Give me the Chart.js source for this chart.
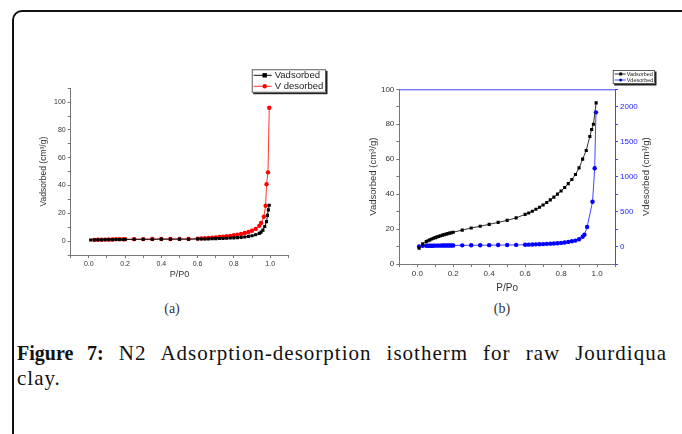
<!DOCTYPE html>
<html>
<head>
<meta charset="utf-8">
<script src="https://cdn.jsdelivr.net/npm/chart.js"></script>
<style>
  body { margin: 0; width: 682px; height: 434px; background: #fff; overflow: hidden; position: relative; font-family: "Liberation Serif", serif; }
  #frame { position: absolute; left: 12px; top: 10px; width: 720px; height: 480px; border: 2px solid #111; border-top-left-radius: 10px; box-sizing: border-box; }
  #wrapA { position: absolute; left: 20px; top: 60px; width: 320px; height: 230px; }
  #wrapB { position: absolute; left: 350px; top: 60px; width: 330px; height: 240px; }
  .sub { position: absolute; top: 301px; width: 40px; text-align: center; font-size: 14px; color: #333; }
  #cap1 { position: absolute; left: 17px; top: 341px; width: 650px; font-size: 21px; letter-spacing: 1px; line-height: 24px; text-align: justify; text-align-last: justify; color: #111; }
  #cap1 b { font-size: 20px; letter-spacing: 0; }
  #cap2 { position: absolute; left: 17px; top: 366px; font-size: 21px; letter-spacing: 1px; line-height: 24px; color: #111; }
</style>
</head>
<body>
<div id="frame"></div>
<div id="wrapA"><canvas id="chartA"></canvas></div>
<div id="wrapB"><canvas id="chartB"></canvas></div>
<div class="sub" style="left:152px">(a)</div>
<div class="sub" style="left:482px">(b)</div>
<div id="cap1"><b>Figure 7:</b> N2 Adsorption-desorption isotherm for raw Jourdiqua</div>
<div id="cap2">clay.</div>

<script>
// --- chart (a) data ---
const adsXA = [0.01, 0.03, 0.05, 0.07, 0.09, 0.11, 0.13, 0.15, 0.17, 0.19, 0.20, 0.25, 0.30, 0.35, 0.40, 0.45, 0.50, 0.55, 0.60, 0.62, 0.64, 0.66, 0.68, 0.70, 0.72, 0.74, 0.76, 0.78, 0.80, 0.82, 0.84, 0.86, 0.88, 0.90, 0.92, 0.94, 0.95, 0.96, 0.97, 0.98, 0.985, 0.99, 0.995];
const adsYA = [0.8, 0.9, 1.0, 1.0, 1.1, 1.1, 1.1, 1.2, 1.2, 1.2, 1.2, 1.3, 1.3, 1.3, 1.4, 1.4, 1.4, 1.4, 1.5, 1.5, 1.5, 1.6, 1.7, 1.8, 1.9, 2.0, 2.1, 2.2, 2.3, 2.5, 2.7, 3.0, 3.4, 3.9, 4.6, 5.6, 6.5, 7.9, 10.5, 14.0, 18.5, 22.5, 25.8];
const desXA = [0.03, 0.05, 0.07, 0.09, 0.11, 0.13, 0.15, 0.17, 0.19, 0.20, 0.25, 0.30, 0.35, 0.40, 0.45, 0.50, 0.55, 0.60, 0.62, 0.64, 0.66, 0.68, 0.70, 0.72, 0.74, 0.76, 0.78, 0.80, 0.82, 0.84, 0.86, 0.88, 0.90, 0.92, 0.94, 0.95, 0.965, 0.975, 0.98, 0.988, 0.995];
const desYA = [0.9, 1.0, 1.0, 1.1, 1.2, 1.2, 1.3, 1.3, 1.3, 1.3, 1.4, 1.4, 1.5, 1.5, 1.5, 1.6, 1.6, 1.8, 2.0, 2.1, 2.3, 2.5, 2.7, 3.0, 3.2, 3.5, 3.8, 4.2, 4.7, 5.2, 5.8, 6.6, 7.5, 8.8, 11.0, 13.0, 17.5, 25.5, 41.0, 49.5, 96.0];

// --- chart (b) data ---
const adsXB = [0.01, 0.03, 0.05, 0.06, 0.07, 0.08, 0.09, 0.10, 0.11, 0.12, 0.13, 0.14, 0.15, 0.16, 0.17, 0.18, 0.19, 0.20, 0.25, 0.30, 0.35, 0.40, 0.45, 0.50, 0.55, 0.60, 0.62, 0.64, 0.66, 0.68, 0.70, 0.72, 0.74, 0.76, 0.78, 0.80, 0.82, 0.84, 0.86, 0.88, 0.90, 0.92, 0.94, 0.96, 0.97, 0.98, 0.995];
const adsYB = [9.0, 11.5, 12.8, 13.3, 13.8, 14.3, 14.7, 15.1, 15.5, 15.8, 16.2, 16.5, 16.8, 17.1, 17.4, 17.7, 17.9, 18.2, 19.4, 20.6, 21.6, 22.7, 23.8, 25.0, 26.4, 28.4, 29.2, 30.2, 31.3, 32.5, 33.8, 35.2, 36.7, 38.3, 40.0, 41.8, 43.8, 46.0, 48.4, 51.2, 55.0, 60.0, 65.0, 73.0, 77.0, 80.0, 92.2];
const desXB = [0.01, 0.03, 0.05, 0.06, 0.07, 0.08, 0.09, 0.10, 0.11, 0.12, 0.13, 0.14, 0.15, 0.16, 0.17, 0.18, 0.19, 0.20, 0.25, 0.30, 0.35, 0.40, 0.45, 0.50, 0.55, 0.60, 0.62, 0.64, 0.66, 0.68, 0.70, 0.72, 0.74, 0.76, 0.78, 0.80, 0.82, 0.84, 0.86, 0.88, 0.90, 0.92, 0.93, 0.945, 0.975, 0.987, 0.994];
const desYB = [0, 10, 11, 11, 12, 12, 12, 13, 13, 13, 13, 14, 14, 14, 15, 15, 15, 15, 17, 18, 19, 20, 21, 22, 23, 25, 27, 29, 31, 33, 35, 38, 41, 44, 48, 52, 58, 66, 75, 85, 105, 140, 170, 280, 640, 1120, 1920];

// --- axis ticks ---
const xTickVals = [-0.1, 0, 0.1, 0.2, 0.3, 0.4, 0.5, 0.6, 0.7, 0.8, 0.9, 1.0, 1.1];
const xTickLabels = ['', '0.0', '', '0.2', '', '0.4', '', '0.6', '', '0.8', '', '1.0', ''];
const yTickValsA = [-10, 0, 10, 20, 30, 40, 50, 60, 70, 80, 90, 100, 110];
const yTickLabelsA = ['', '0', '', '20', '', '40', '', '60', '', '80', '', '100', ''];
const yTickValsB = [0, 10, 20, 30, 40, 50, 60, 70, 80, 90, 100];
const yTickLabelsB = ['0', '', '20', '', '40', '', '60', '', '80', '', '100'];
const y1TickValsB = [-250, 0, 250, 500, 750, 1000, 1250, 1500, 1750, 2000, 2250];
const y1TickLabelsB = ['', '0', '', '500', '', '1000', '', '1500', '', '2000', ''];

const pts = (xs, ys) => xs.map((x, i) => ({ x: x, y: ys[i] }));
const sans = '"Liberation Sans", Arial, sans-serif';

// draws the boxed legend, optional coloured top border and the right axis title
const boxLegend = {
  id: 'boxLegend',
  afterDraw(chart, args, o) {
    const ctx = chart.ctx;
    const a = chart.chartArea;
    ctx.save();
    if (o.topColor) {
      ctx.strokeStyle = o.topColor;
      ctx.lineWidth = 1;
      ctx.beginPath();
      ctx.moveTo(a.left, a.top + 0.5);
      ctx.lineTo(a.right, a.top + 0.5);
      ctx.stroke();
    }
    if (o.rightTitle) {
      // reads bottom-to-top like the left one
      ctx.save();
      ctx.translate(o.rightTitleX, (a.top + a.bottom) / 2);
      ctx.rotate(-Math.PI / 2);
      ctx.fillStyle = '#333';
      ctx.font = o.rightTitleSize + 'px ' + sans;
      ctx.textAlign = 'center';
      ctx.textBaseline = 'middle';
      ctx.fillText(o.rightTitle, 0, 0);
      ctx.restore();
    }
    ctx.fillStyle = '#222';
    ctx.fillRect(o.x + o.sh, o.y + o.sh, o.w, o.h);
    ctx.fillStyle = '#fff';
    ctx.fillRect(o.x, o.y, o.w, o.h);
    ctx.strokeStyle = '#333';
    ctx.lineWidth = 0.8;
    ctx.strokeRect(o.x + 0.5, o.y + 0.5, o.w - 1, o.h - 1);
    ctx.font = o.fontSize + 'px ' + sans;
    ctx.textBaseline = 'middle';
    chart.data.datasets.forEach((ds, i) => {
      const y = o.y + o.row0 + i * o.rowH;
      ctx.strokeStyle = ds.borderColor;
      ctx.lineWidth = 1;
      ctx.beginPath();
      ctx.moveTo(o.x + o.l0, y);
      ctx.lineTo(o.x + o.l1, y);
      ctx.stroke();
      ctx.fillStyle = ds.pointBackgroundColor;
      const mx = o.x + o.mk, r = o.mr;
      if (ds.pointStyle === 'rect') {
        ctx.fillRect(mx - r, y - r, 2 * r, 2 * r);
      } else {
        ctx.beginPath();
        ctx.arc(mx, y, r, 0, Math.PI * 2);
        ctx.fill();
      }
      ctx.fillStyle = '#222';
      ctx.fillText(ds.label, o.x + o.tx, y + 0.5);
    });
    ctx.restore();
  }
};

const axisColor = '#777';
const tickFont = (s) => ({ family: sans, size: s });

function xAxis(h, fontS, titleText, titlePad) {
  return {
    type: 'linear', min: -0.1, max: 1.1,
    afterBuildTicks: s => { s.ticks = xTickVals.map(v => ({ value: v })); },
    afterFit: s => { s.height = h; },
    ticks: { autoSkip: false, maxRotation: 0, padding: 2, color: '#333', font: tickFont(fontS), callback: (v, i) => xTickLabels[i] },
    grid: { drawOnChartArea: false, tickLength: 3, tickColor: axisColor },
    border: { display: true, color: axisColor },
    title: { display: true, text: titleText, color: '#333', font: tickFont(fontS + 2), padding: { top: 0, bottom: titlePad } }
  };
}

function yAxis(opts) {
  return {
    type: 'linear', position: opts.pos, min: opts.min, max: opts.max,
    afterBuildTicks: s => { s.ticks = opts.vals.map(v => ({ value: v })); },
    afterFit: s => { s.width = opts.w; },
    ticks: { autoSkip: false, padding: 2, color: opts.tc, font: tickFont(opts.fs), callback: (v, i) => opts.labels[i] },
    grid: { drawOnChartArea: false, tickLength: 3, tickColor: opts.ac },
    border: { display: true, color: opts.ac },
    title: { display: !!opts.title, text: opts.title || '', color: '#333', font: tickFont(opts.tfs || 9), padding: { top: opts.tp || 0, bottom: 0 } }
  };
}

new Chart(document.getElementById('chartA'), {
  type: 'scatter',
  data: {
    datasets: [
      { label: 'Vadsorbed', data: pts(adsXA, adsYA), showLine: true, borderColor: '#111', borderWidth: 1,
        pointStyle: 'rect', pointRadius: 2.2, pointBackgroundColor: '#000', pointBorderWidth: 0 },
      { label: 'V desorbed', data: pts(desXA, desYA), showLine: true, borderColor: '#f33', borderWidth: 1,
        pointStyle: 'circle', pointRadius: 2.2, pointBackgroundColor: '#f00', pointBorderWidth: 0 }
    ]
  },
  options: {
    responsive: true, maintainAspectRatio: false, animation: false,
    layout: { padding: { top: 28.3, right: 51.7, left: 0, bottom: 0 } },
    plugins: {
      legend: { display: false }, tooltip: { enabled: false },
      boxLegend: { x: 231.7, y: 9.3, w: 74.3, h: 23.4, sh: 1.5, row0: 6, rowH: 11, l0: 2, l1: 20, mk: 13, mr: 2.2, tx: 23, fontSize: 9.5 }
    },
    scales: {
      x: xAxis(35, 7, 'P/P0', 10),
      y: yAxis({ pos: 'left', min: -10, max: 110, vals: yTickValsA, labels: yTickLabelsA, w: 50.7, tc: '#333', ac: axisColor, fs: 7, title: 'Vadsorbed (cm³/g)', tfs: 8.5, tp: 19 })
    }
  },
  plugins: [boxLegend]
});

new Chart(document.getElementById('chartB'), {
  type: 'scatter',
  data: {
    datasets: [
      { label: 'Vadsorbed', data: pts(adsXB, adsYB), showLine: true, borderColor: '#333', borderWidth: 1, yAxisID: 'y',
        pointStyle: 'rect', pointRadius: 2.2, pointBackgroundColor: '#000', pointBorderWidth: 0 },
      { label: 'Vdesorbed', data: pts(desXB, desYB), showLine: true, borderColor: '#44f', borderWidth: 1, yAxisID: 'y1',
        pointStyle: 'circle', pointRadius: 2.2, pointBackgroundColor: '#00f', pointBorderWidth: 0 }
    ]
  },
  options: {
    responsive: true, maintainAspectRatio: false, animation: false,
    layout: { padding: { top: 29.3, right: 0, left: 0, bottom: 0 } },
    plugins: {
      legend: { display: false }, tooltip: { enabled: false },
      boxLegend: { x: 262.7, y: 10, w: 42.3, h: 14, sh: 1.5, row0: 4, rowH: 6, l0: 2, l1: 13, mk: 8, mr: 1.5, tx: 14, fontSize: 5.5,
        topColor: '#44f', rightTitle: 'Vdesorbed (cm³/g)', rightTitleX: 296, rightTitleSize: 9.5 }
    },
    scales: {
      x: xAxis(36, 8, 'P/Po', 6),
      y: yAxis({ pos: 'left', min: 0, max: 100, vals: yTickValsB, labels: yTickLabelsB, w: 49.3, tc: '#333', ac: axisColor, fs: 8, title: 'Vadsorbed (cm³/g)', tfs: 9.5, tp: 18 }),
      y1: yAxis({ pos: 'right', min: -250, max: 2250, vals: y1TickValsB, labels: y1TickLabelsB, w: 65, tc: '#22f', ac: '#44f', fs: 8 })
    }
  },
  plugins: [boxLegend]
});
</script>
</body>
</html>
